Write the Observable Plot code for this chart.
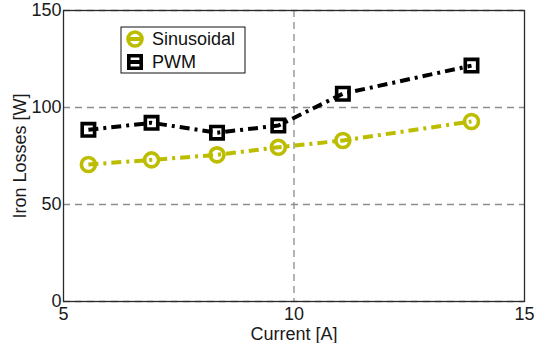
<!DOCTYPE html>
<html><head><meta charset="utf-8">
<script src="https://cdn.jsdelivr.net/npm/d3@7"></script>
<script src="https://cdn.jsdelivr.net/npm/@observablehq/plot@0.6"></script>
<style>body{margin:0;background:#fff;} svg{font-family:"Liberation Sans",Arial,sans-serif;}</style>
</head><body><div id="chart"></div>
<script>
const current = [5.54, 6.91, 8.33, 9.66, 11.06, 13.85];
const sinusoidal = [70.6, 73.0, 75.6, 79.5, 83.0, 92.8];
const pwm = [88.5, 92.1, 87.0, 90.7, 107.1, 121.6];
const xTicks = [5, 10, 15];
const yTicks = [0, 50, 100, 150];
const xGrid = [10];
const seriesNames = ["Sinusoidal", "PWM"];
const seriesSymbols = ["circle", "square"];
const seriesColors = ["#bdbd00", "#000000"];

const data = [];
current.forEach((c, i) => {
  data.push({series: seriesNames[0], x: c, y: sinusoidal[i]});
  data.push({series: seriesNames[1], x: c, y: pwm[i]});
});
const dash = "10,5,3,5";

const plot = Plot.plot({
  width: 539, height: 343,
  marginLeft: 63, marginRight: 15, marginTop: 10, marginBottom: 42,
  style: {fontFamily: '"Liberation Sans", Arial, sans-serif', background: "#fff", color: "#1a1a1a"},
  x: {domain: [5, 15]},
  y: {domain: [0, 150]},
  color: {domain: seriesNames, range: seriesColors},
  symbol: {domain: seriesNames, range: seriesSymbols},
  marks: [
    Plot.gridY(yTicks, {stroke: "#8c8c8c", strokeOpacity: 1, strokeWidth: 1.3, strokeDasharray: "7,5"}),
    Plot.gridX(xGrid, {stroke: "#8c8c8c", strokeOpacity: 1, strokeWidth: 1.3, strokeDasharray: "7,5"}),
    Plot.frame({stroke: "#2a2a2a", strokeWidth: 1.3}),
    Plot.axisX(xTicks, {tickSize: 0, tickPadding: 6, fontSize: 18, label: "Current [A]", labelAnchor: "center", labelOffset: 38, labelArrow: "none"}),
    Plot.axisY(yTicks, {tickSize: 0, tickPadding: 2, fontSize: 18, label: "Iron Losses [W]", labelAnchor: "center", labelOffset: 50, labelArrow: "none"}),
    Plot.line(data, {x: "x", y: "y", z: "series", stroke: "series", strokeWidth: 4, strokeDasharray: dash, strokeLinecap: "butt", strokeLinejoin: "miter"}),
    Plot.dot(data, {x: "x", y: "y", symbol: "series", stroke: "series", r: 7, strokeWidth: 3.6, fill: "none"})
  ]
});
document.getElementById("chart").appendChild(plot);

// legend
const svg = d3.select(plot);
const lg = svg.append("g").attr("text-anchor", "start");
lg.append("rect").attr("x", 121).attr("y", 27).attr("width", 124).attr("height", 46)
  .attr("fill", "#fff").attr("stroke", "#111").attr("stroke-width", 1);
seriesNames.forEach((name, i) => {
  const cy = 39 + i * 23;
  const col = seriesColors[i];
  lg.append("line").attr("x1", 127).attr("x2", 143).attr("y1", cy).attr("y2", cy)
    .attr("stroke", col).attr("stroke-width", 4);
  lg.append("path").attr("transform", `translate(135,${cy})`)
    .attr("d", d3.symbol(i === 0 ? d3.symbolCircle : d3.symbolSquare, Math.PI * 49)())
    .attr("fill", "none").attr("stroke", col).attr("stroke-width", 3.6);
  lg.append("text").attr("x", 152).attr("y", cy).attr("dy", "0.35em").attr("text-anchor", "start")
    .attr("font-size", 18).attr("fill", "#111").text(name);
});
</script></body></html>
